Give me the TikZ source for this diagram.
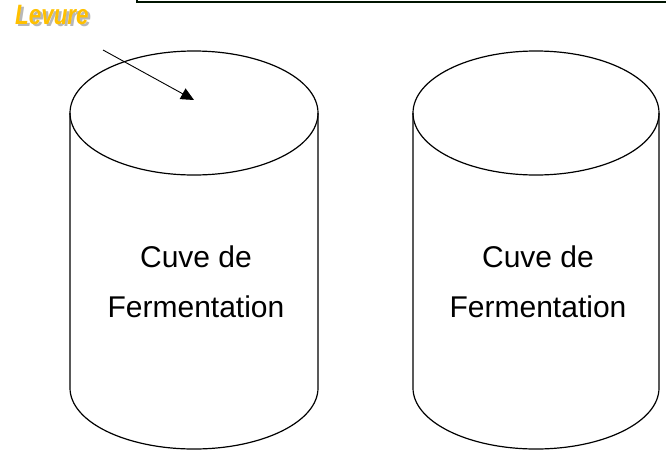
\documentclass[tikz,border=0pt]{standalone}
\usepackage{fontspec}
\setmainfont{Liberation Sans}
\usetikzlibrary{arrows.meta, positioning}

\definecolor{levureorange}{RGB}{255,192,0}
\newcommand{\shadowword}[1]{%
  \makebox[0pt][l]{\hspace{2.5pt}\raisebox{-2.5pt}{\color{black!28}\scalebox{0.8}[1]{#1}}}%
  {\color{levureorange}\scalebox{0.8}[1]{#1}}}

\begin{document}
\begin{tikzpicture}[
        x=1pt, y=1pt,
        >={Triangle[length=13pt, width=12pt]},
        tank/.style={line width=1.2pt},
        cuvetext/.style={font=\fontsize{30}{50}\selectfont, align=center},
        levtext/.style={font=\fontsize{28}{30}\selectfont\bfseries\itshape, anchor=base west, inner sep=0pt},
    ]
    \useasboundingbox (0,0) rectangle (666,-453);

    % ── Top frame edge ──
    \draw[line width=1.3pt, black!92!green] (137,0) |- (666,-2);

    % ── Fermentation tanks ──
    \foreach \cx/\rx in {194/124, 536/123} {
        \draw[tank] (\cx-\rx,-113) -- (\cx-\rx,-388)
            arc[start angle=180, end angle=360, x radius=\rx, y radius=61]
            -- (\cx+\rx,-113);
        \draw[tank] (\cx,-113) ellipse[x radius=\rx, y radius=62];
    }
    \node[cuvetext] (cuveA) at (196,-282) {Cuve de\\Fermentation};
    \node[cuvetext] (cuveB) at (538,-282) {Cuve de\\Fermentation};

    % ── Yeast label ──
    \node[levtext] (levure) at (15,-24) {\shadowword{Levure}};

    % ── Arrow into the first tank ──
    \coordinate (levtail) at (103,-50);
    \coordinate (yeast) at (194,-100);
    \draw[->, line width=0.9pt] (levtail) -- (yeast);
\end{tikzpicture}
\end{document}
